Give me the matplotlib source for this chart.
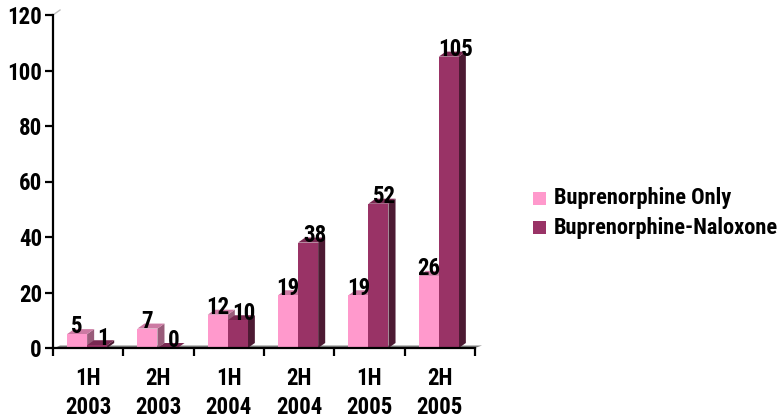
import matplotlib
matplotlib.use("Agg")
import matplotlib.pyplot as plt
from matplotlib.patches import Polygon, Rectangle
from matplotlib import font_manager

categories = ["1H\n2003", "2H\n2003", "1H\n2004", "2H\n2004", "1H\n2005", "2H\n2005"]
series_names = ["Buprenorphine Only", "Buprenorphine-Naloxone"]
bup_only = [5, 7, 12, 19, 19, 26]
bup_nalox = [1, 0, 10, 38, 52, 105]
y_ticks = [0, 20, 40, 60, 80, 100, 120]

bold_fonts = {f.name for f in font_manager.fontManager.ttflist
              if (isinstance(f.weight, int) and f.weight >= 700) or f.weight == "bold"}
prefs = ["Arial Narrow", "Liberation Sans Narrow", "Roboto Condensed", "Archivo Narrow",
         "PT Sans Narrow", "Open Sans Condensed", "Pragati Narrow", "Encode Sans Condensed",
         "Fira Sans Condensed", "IBM Plex Sans Condensed", "Barlow Semi Condensed",
         "Barlow Condensed"]
chosen = next((p for p in prefs if p in bold_fonts), "DejaVu Sans")
plt.rcParams["font.family"] = [chosen, "DejaVu Sans"]
plt.rcParams["font.weight"] = "bold"

front = ["#FF99CC", "#993366"]
top = ["#CC7AA3", "#7A2952"]
side = ["#995C7A", "#4D1A33"]

W, H = 784, 418
fig = plt.figure(figsize=(W / 100, H / 100), dpi=100)
renderer = fig.canvas.get_renderer()


def fit_size(s, target_px, base=14):
    t = fig.text(0, 0, s, fontsize=base, fontweight="bold")
    wpx = t.get_window_extent(renderer).width
    t.remove()
    return base * target_px / wpx


fs_tick = fit_size("2003", 46)
fs_leg = fit_size(series_names[1], 225)

ax = fig.add_axes([53 / W, 1 - 348 / H, 422 / W, 333 / H])
ax.set_xlim(-0.5, len(categories) - 0.5)
ax.set_ylim(0, 120)

w = 0.285
dx, dy = 0.1, 1.8
offsets = [-0.3, -0.015]

# floor
ax.add_patch(Polygon([(-0.5 + 0.02, 0), (len(categories) - 0.5, 0),
                      (len(categories) - 0.5 + dx, 0.9), (-0.5 + dx, 0.9)],
                     closed=True, facecolor="#808080", edgecolor="none",
                     zorder=1, clip_on=False))

for s, vals in enumerate([bup_only, bup_nalox]):
    for i, v in enumerate(vals):
        x0 = i + offsets[s]
        x1 = x0 + w
        ax.add_patch(Polygon([(x1, 0), (x1 + dx, dy), (x1 + dx, v + dy), (x1, v)],
                             closed=True, facecolor=side[s], edgecolor="none", zorder=2 + s))
        ax.add_patch(Polygon([(x0, v), (x0 + dx, v + dy), (x1 + dx, v + dy), (x1, v)],
                             closed=True, facecolor=top[s], edgecolor="none", zorder=2 + s))
        ax.add_patch(Rectangle((x0, 0), w, v, facecolor=front[s], edgecolor="none", zorder=2 + s))
        ax.text(x0 + w / 2 + (0.0 if s == 0 else 0.09), v + 2.6, str(v),
                ha="center", va="center", fontsize=fs_tick, fontweight="bold",
                color="black", zorder=10)

for sp in ["top", "right"]:
    ax.spines[sp].set_visible(False)
ax.spines["left"].set_linewidth(1.6)
ax.spines["bottom"].set_linewidth(1.6)
ax.spines["left"].set_zorder(5)
ax.spines["bottom"].set_zorder(5)

ax.set_yticks(y_ticks)
ax.set_yticklabels([str(t) for t in y_ticks])
ax.set_xticks([i - 0.5 for i in range(len(categories) + 1)])
ax.set_xticklabels([])
ax.set_xticks(range(len(categories)), minor=True)
ax.set_xticklabels(categories, minor=True)
ax.tick_params(axis="x", which="minor", length=0, pad=14, labelsize=fs_tick)
ax.tick_params(axis="x", which="major", direction="out", length=6, width=1.6)
ax.tick_params(axis="y", direction="out", length=6, width=1.6, labelsize=fs_tick, pad=2)
for lab in ax.get_xticklabels(minor=True) + ax.get_yticklabels():
    lab.set_fontweight("bold")
    lab.set_linespacing(1.3)

# back-wall hint
ax.plot([-0.5, -0.5 + dx], [120, 120 + dy], color="#C0C0C0", lw=1, clip_on=False)

# legend
for k, name in enumerate(series_names):
    yc = 198 + 30 * k
    fig.patches.append(Rectangle((533 / W, 1 - (yc + 6.5) / H), 13 / W, 13 / H,
                                 transform=fig.transFigure, facecolor=front[k],
                                 edgecolor="none"))
    fig.text(554 / W, 1 - yc / H, name, ha="left", va="center",
             fontsize=fs_leg, fontweight="bold")

fig.savefig("out.png", dpi=100)
